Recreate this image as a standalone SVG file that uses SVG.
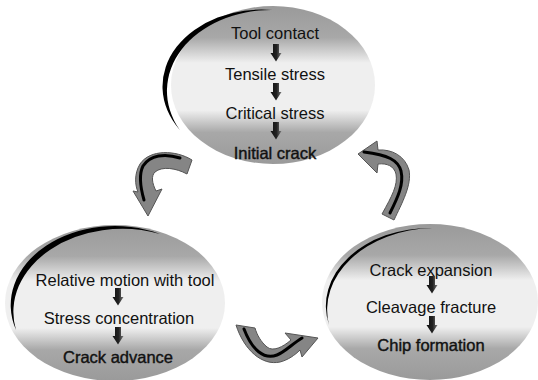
<svg xmlns="http://www.w3.org/2000/svg" width="538" height="380" viewBox="0 0 538 380">
<defs>
<linearGradient id="shade" x1="0" y1="0" x2="0" y2="1">
<stop offset="0" stop-color="#9a9a9a"/>
<stop offset="0.2" stop-color="#a8a8a8"/>
<stop offset="0.36" stop-color="#efefef"/>
<stop offset="0.66" stop-color="#efefef"/>
<stop offset="0.8" stop-color="#a8a8a8"/>
<stop offset="1" stop-color="#9a9a9a"/>
</linearGradient>
<linearGradient id="barr" x1="0" y1="0" x2="1" y2="0">
<stop offset="0" stop-color="#111"/>
<stop offset="0.55" stop-color="#222"/>
<stop offset="1" stop-color="#777"/>
</linearGradient>
<path id="down" d="M-3,-9 h6 v9 h2.5 l-5.5,8.5 l-5.5,-8.5 h2.5 z"/>
</defs>
<style>
.ell{fill:url(#shade);}
.rim{fill:#000;}
.t{font-family:"Liberation Sans",Arial,sans-serif;font-size:16.5px;fill:#111;text-anchor:middle;}
.b{stroke:#111;stroke-width:0.4;}
.sa{fill:url(#barr);}
.ca{fill:#858585;stroke:#555;stroke-width:1;}
.ck{fill:none;stroke:#000;stroke-width:3;stroke-linecap:round;}
</style>
<rect width="538" height="380" fill="#fff"/>

<g id="node-top">
<ellipse class="ell" cx="273" cy="85" rx="102" ry="79"/>
<path class="rim" d="M179.8,130 A99,77 0 0 1 272.5,10 A104,81 0 0 0 179.8,130 Z"/>
<text class="t" x="275" y="39">Tool contact</text>
<use href="#down" class="sa" x="276" y="53"/>
<text class="t" x="275" y="80">Tensile stress</text>
<use href="#down" class="sa" x="276" y="92"/>
<text class="t" x="275" y="119">Critical stress</text>
<use href="#down" class="sa" x="276" y="131"/>
<text class="t b" x="275" y="159">Initial crack</text>
</g>

<g id="node-left">
<ellipse class="ell" cx="115" cy="303" rx="110" ry="78"/>
<path class="rim" d="M16,330 A104,79 0 0 1 160,234 A109,83 0 0 0 16,330 Z"/>
<text class="t" x="125" y="286">Relative motion with tool</text>
<use href="#down" class="sa" x="118" y="297"/>
<text class="t" x="119" y="324">Stress concentration</text>
<use href="#down" class="sa" x="118" y="336"/>
<text class="t b" x="118" y="363">Crack advance</text>
</g>

<g id="node-right">
<ellipse class="ell" cx="430" cy="302" rx="108" ry="78"/>
<path class="rim" d="M329,325 A104,78 0 0 1 432,228 A109,82 0 0 0 329,325 Z"/>
<text class="t" x="431" y="276">Crack expansion</text>
<use href="#down" class="sa" x="432" y="285"/>
<text class="t" x="431" y="313">Cleavage fracture</text>
<use href="#down" class="sa" x="432" y="325"/>
<text class="t b" x="431" y="351">Chip formation</text>
</g>

<g id="connectors">
<g id="arrow-top-left">
<path class="ca" d="M192,160 C176,150 150,149 140,164 C134,174 135,185 138,192 L133,191 L148,216 L162,189 L156,191 C152,183 151,176 155,172 C162,166 176,168 187,174 Z"/>
<path class="ck" d="M180,158 C165,153 150,155 143,166 C139,174 140,186 144,200"/>
</g>
<g id="arrow-right-top">
<path class="ca" d="M382,214 C392,196 398,185 396,174 C394,166 387,163 378,164 L377,173 L358,154 L377,141 L378,150 C392,149 405,156 409,170 C412,185 402,203 394,220 Z"/>
<path class="ck" d="M390,213 C398,197 404,184 401,171 C398,160 388,155 364,152"/>
</g>
<g id="arrow-bottom">
<path class="ca" d="M236,325 C244,350 262,366 280,362 C288,360 295,355 300,350 L302,357 L318,338 L285,333 L291,340 C283,347 273,352 267,347 C261,342 257,335 255,328 Z"/>
<path class="ck" d="M244,329 C252,350 264,360 277,355 C285,352 292,344 302,338"/>
</g>
</g>
</svg>
